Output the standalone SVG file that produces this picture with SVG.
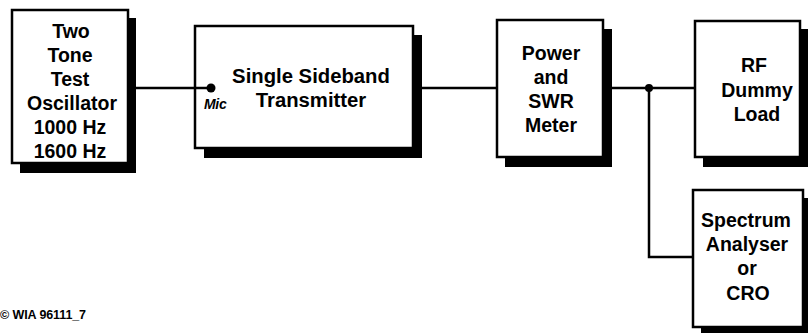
<svg xmlns="http://www.w3.org/2000/svg" width="808" height="333" viewBox="0 0 808 333">
<style>
.box{fill:#fff;stroke:#000;stroke-width:2.5}
.sh{fill:#000}
.t{font-family:"Liberation Sans",Arial,sans-serif;font-weight:bold;font-size:19.5px;text-anchor:middle;fill:#000}
.ln{fill:none;stroke:#000;stroke-width:2.5}
</style>
<rect width="808" height="333" fill="#fff"/>
<g id="oscillator">
<rect class="sh" x="20" y="18" width="116" height="155"/>
<rect class="box" x="12" y="10" width="116" height="153"/>
<text class="t" x="70"><tspan x="71" y="38">Two</tspan><tspan x="70" y="62">Tone</tspan><tspan x="70" y="86">Test</tspan><tspan x="72" y="110">Oscillator</tspan><tspan x="70" y="134">1000 Hz</tspan><tspan x="70" y="158">1600 Hz</tspan></text>
</g>
<g id="transmitter">
<rect class="sh" x="204" y="35" width="218" height="123"/>
<rect class="box" x="195" y="26" width="218" height="122"/>
<text x="204" y="109" style="font-family:'Liberation Sans',Arial,sans-serif;font-weight:bold;font-style:italic;font-size:14px;letter-spacing:-0.3px">Mic</text>
<text class="t" style="font-size:20.3px"><tspan x="311" y="83">Single Sideband</tspan><tspan x="311" y="107">Transmitter</tspan></text>
</g>
<g id="meter">
<rect class="sh" x="505" y="29" width="107" height="138"/>
<rect class="box" x="497" y="20" width="106" height="137"/>
<text class="t"><tspan x="551" y="60">Power</tspan><tspan x="551" y="84">and</tspan><tspan x="551" y="108">SWR</tspan><tspan x="551" y="132">Meter</tspan></text>
</g>
<g id="dummyload">
<rect class="sh" x="703" y="29" width="105" height="138"/>
<rect class="box" x="695" y="21" width="105" height="136"/>
<text class="t"><tspan x="754" y="72">RF</tspan><tspan x="757" y="97">Dummy</tspan><tspan x="757" y="121">Load</tspan></text>
</g>
<g id="analyser">
<rect class="sh" x="701" y="198" width="107" height="135"/>
<rect class="box" x="693" y="190" width="110" height="137"/>
<text class="t"><tspan x="746" y="227">Spectrum</tspan><tspan x="747" y="251">Analyser</tspan><tspan x="747" y="275">or</tspan><tspan x="748" y="300">CRO</tspan></text>
</g>
<g id="connectors">
<line class="ln" x1="128" y1="88" x2="211" y2="88"/>
<circle cx="211" cy="88" r="4.5" fill="#000"/>
<line class="ln" x1="413" y1="88" x2="497" y2="88"/>
<line class="ln" x1="603" y1="88" x2="695" y2="88"/>
<polyline class="ln" points="649,88 649,257 693,257"/>
<circle cx="649" cy="88" r="4" fill="#000"/>
</g>
<text x="0" y="319" style="font-family:'Liberation Sans',Arial,sans-serif;font-weight:bold;font-size:12.5px;letter-spacing:-0.1px">© WIA 96111_7</text>
</svg>
